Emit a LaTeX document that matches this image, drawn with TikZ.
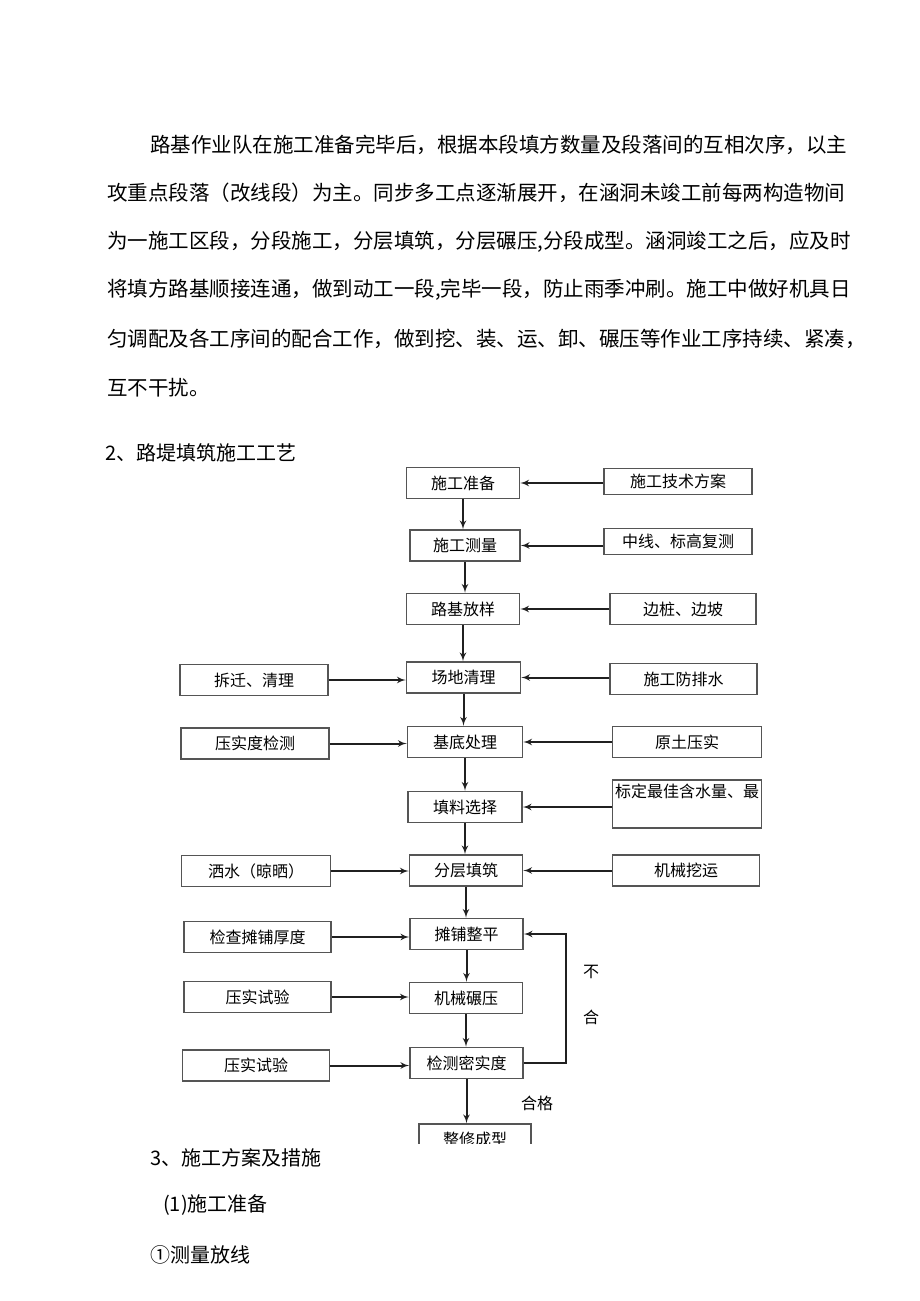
\documentclass[tikz,border=0pt]{standalone}
\usepackage{fontspec}
\setmainfont{Noto Sans CJK SC}
\usetikzlibrary{arrows,positioning}
\definecolor{boxline}{HTML}{555555}
\definecolor{arrowline}{HTML}{202020}

\begin{document}
\begin{tikzpicture}[x=1pt, y=-1pt,
  txt/.style={anchor=west, inner sep=0pt, font=\fontsize{20.5}{24}\selectfont},
  box/.style={draw=boxline, line width=1.5pt, rectangle, text centered, minimum width=113pt, minimum height=31pt, inner sep=0pt, font=\fontsize{16}{19}\selectfont},
  sidebox/.style={box, minimum width=148pt},
  line/.style={draw=arrowline, line width=2pt, -latex'},
  lbl/.style={inner sep=0pt, font=\fontsize{16}{19}\selectfont}
]
\useasboundingbox (0,0) rectangle (920,1301);

% Paragraph
\node[txt] (p1) at (150,145) {路基作业队在施工准备完毕后，根据本段填方数量及段落间的互相次序，以主};
\node[txt] (p2) at (107,193) {攻重点段落（改线段）为主。同步多工点逐渐展开，在涵洞未竣工前每两构造物间};
\node[txt] (p3) at (107,242) {为一施工区段，分段施工，分层填筑，分层碾压,分段成型。涵洞竣工之后，应及时};
\node[txt] (p4) at (107,290) {将填方路基顺接连通，做到动工一段,完毕一段，防止雨季冲刷。施工中做好机具日};
\node[txt] (p5) at (107,339) {匀调配及各工序间的配合工作，做到挖、装、运、卸、碾压等作业工序持续、紧凑，};
\node[txt] (p6) at (107,388) {互不干扰。};

\node[txt, font=\fontsize{20}{24}\selectfont] (h2) at (105,453) {2、路堤填筑施工工艺};

% Main column
\node[box] (prep) at (463,483) {施工准备};
\node[box, minimum width=110pt] (survey) at (465,545.5) {施工测量};
\node[box] (layout) at (463,609) {路基放样};
\node[box, minimum width=114pt] (clear) at (463.5,677.5) {场地清理};
\node[box, minimum width=115pt] (base) at (465,742) {基底处理};
\node[box, minimum width=114pt] (fill) at (465,807) {填料选择};
\node[box] (layer) at (466,870.5) {分层填筑};
\node[box] (level) at (466.5,934) {摊铺整平};
\node[box] (roll) at (466,998) {机械碾压};
\node[box] (check) at (466.5,1063) {检测密实度};
\begin{scope}
  \clip (0,0) rectangle (920,1143);
  \node[box, minimum width=112pt] (finish) at (475,1139.5) {整修成型};
\end{scope}

% Right column
\node[sidebox, minimum height=26pt] (plan) at (678,481.5) {施工技术方案};
\node[sidebox, minimum height=26pt] (recheck) at (678,541.5) {中线、标高复测};
\node[sidebox, minimum width=146pt] (stake) at (683,609) {边桩、边坡};
\node[sidebox, minimum width=147pt] (drain) at (683.5,679) {施工防排水};
\node[sidebox, minimum width=149pt] (soil) at (687,742) {原土压实};
\node[sidebox, minimum width=149pt, minimum height=48pt, align=center] (calib) at (687,804) {标定最佳含水量、最\\[2pt]\strut};
\node[sidebox, minimum width=147pt] (dig) at (686,870.5) {机械挖运};

% Left column
\node[sidebox] (demolish) at (254,680) {拆迁、清理};
\node[sidebox] (test1) at (255,743.5) {压实度检测};
\node[sidebox, minimum width=149pt] (water) at (256,871) {洒水（晾晒）};
\node[sidebox, minimum width=147pt] (thick) at (257.5,937) {检查摊铺厚度};
\node[sidebox, minimum width=147pt] (trial1) at (257.5,997) {压实试验};
\node[sidebox, minimum width=147pt] (trial2) at (256,1065.5) {压实试验};

% Labels
\node[lbl] (no1) at (591,972) {不};
\node[lbl] (no2) at (591,1017) {合};
\node[lbl] (pass) at (537,1103) {合格};

% Following text
\node[txt, font=\fontsize{20}{24}\selectfont] (h3) at (150,1158) {3、施工方案及措施};
\node[txt, font=\fontsize{20}{24}\selectfont] (h31) at (163,1205) {(1)施工准备};
\node[txt, font=\fontsize{20}{24}\selectfont] (h311) at (150,1255) {①测量放线};

% Connectors
\draw[line] (prep.south) -- (prep.south |- survey.north);
\draw[line] (survey.south) -- (survey.south |- layout.north);
\draw[line] (layout.south) -- (layout.south |- clear.north);
\draw[line] (clear.south) -- (clear.south |- base.north);
\draw[line] (base.south) -- (base.south |- fill.north);
\draw[line] (fill.south) -- (fill.south |- layer.north);
\draw[line] (layer.south) -- (layer.south |- level.north);
\draw[line] (level.south) -- (level.south |- roll.north);
\draw[line] (roll.south) -- (roll.south |- check.north);
\draw[line] (check.south) -- (check.south |- finish.north);

\draw[line] (prep.east -| plan.west) -- (prep.east);
\draw[line] (survey.east -| recheck.west) -- (survey.east);
\draw[line] (layout.east -| stake.west) -- (layout.east);
\draw[line] (clear.east -| drain.west) -- (clear.east);
\draw[line] (base.east -| soil.west) -- (base.east);
\draw[line] (fill.east -| calib.west) -- (fill.east);
\draw[line] (layer.east -| dig.west) -- (layer.east);

\draw[line] (demolish.east) -- (demolish.east -| clear.west);
\draw[line] (test1.east) -- (test1.east -| base.west);
\draw[line] (water.east) -- (water.east -| layer.west);
\draw[line] (thick.east) -- (thick.east -| level.west);
\draw[line] (trial1.east) -- (trial1.east -| roll.west);
\draw[line] (trial2.east) -- (trial2.east -| check.west);

\draw[line] (check.east) -- ++(42,0) |- (level.east);

\end{tikzpicture}
\end{document}
